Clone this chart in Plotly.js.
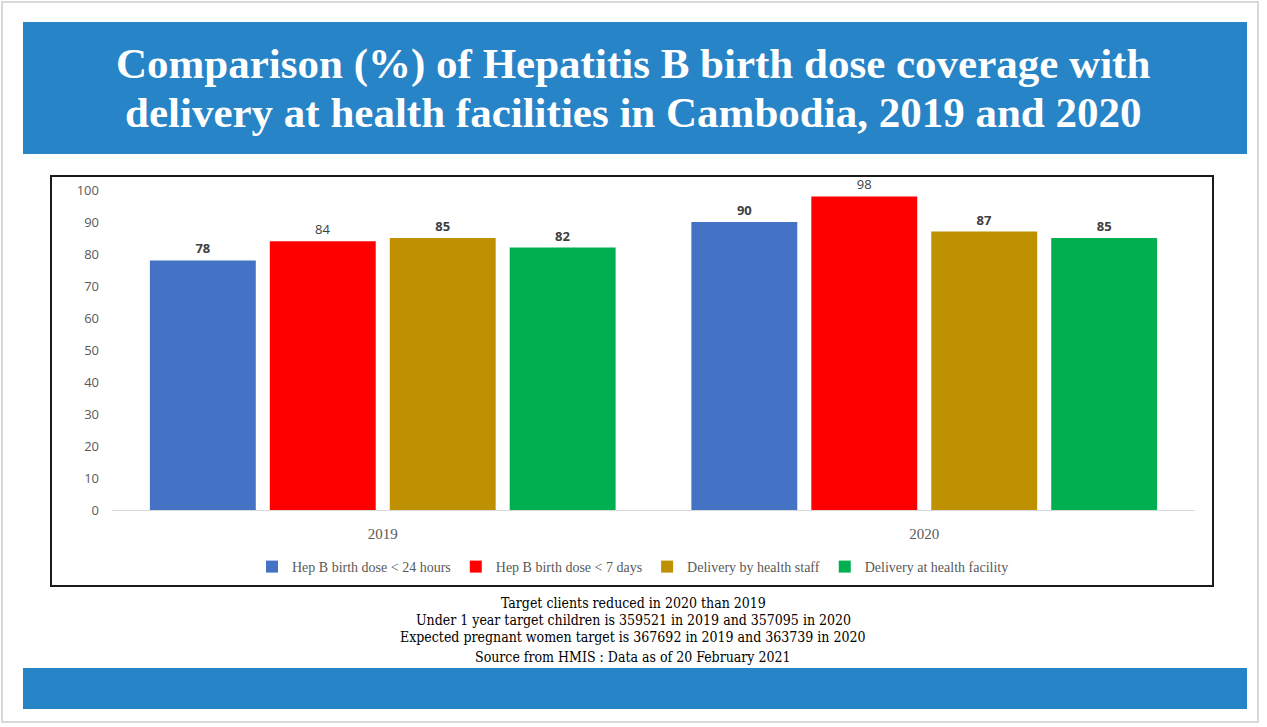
<!DOCTYPE html>
<html><head><meta charset="utf-8">
<script src="https://cdn.plot.ly/plotly-3.0.1.min.js"></script>
<style>html,body{margin:0;padding:0;background:#fff;}#chart{width:1267px;height:727px;}</style>
</head><body><div id="chart"></div>
<script>
const years = ['2019', '2020'];
const seriesNames = ['Hep B birth dose < 24 hours', 'Hep B birth dose < 7 days', 'Delivery by health staff', 'Delivery at health facility'];
const hepB24h = [78, 90];
const hepB7d = [84, 98];
const deliveryStaff = [85, 87];
const deliveryFacility = [82, 85];
const colors = ['#4472C4', '#FF0000', '#BF9000', '#00B050'];
const labelBold = [true, false, true, true];
const footLines = ['Target clients reduced in 2020 than 2019',
  'Under 1 year target children is 359521 in 2019 and 357095 in 2020',
  'Expected pregnant women target is 367692 in 2019 and 363739 in 2020',
  'Source from HMIS : Data as of 20 February 2021'];

const W = 1267, H = 727, L = 112, R = 72, T = 190, B = 217;
const pw = W - L - R, ph = H - T - B;
const px = x => (x - L) / pw;
const py = y => (H - B - y) / ph;

const allVals = [hepB24h, hepB7d, deliveryStaff, deliveryFacility];
const traces = allVals.map((v, i) => ({
  type: 'bar', x: years, y: v, name: seriesNames[i],
  marker: {color: colors[i], line: {width: 0}},
  text: v.map(String), textposition: 'outside', cliponaxis: false,
  texttemplate: labelBold[i] ? '<b>%{text}</b>' : '%{text}',
  textfont: {family: 'Open Sans, sans-serif', size: 13, color: '#404040'},
  hoverinfo: 'none'
}));

const shapes = [
  {type: 'rect', xref: 'paper', yref: 'paper', x0: px(2), x1: px(1258), y0: py(2), y1: py(722), line: {color: '#d9d9d9', width: 2}, fillcolor: 'rgba(0,0,0,0)', layer: 'below'},
  {type: 'rect', xref: 'paper', yref: 'paper', x0: px(23), x1: px(1247), y0: py(22), y1: py(154), line: {width: 0}, fillcolor: '#2784C7', layer: 'below'},
  {type: 'rect', xref: 'paper', yref: 'paper', x0: px(23), x1: px(1247), y0: py(668), y1: py(709), line: {width: 0}, fillcolor: '#2784C7', layer: 'below'},
  {type: 'rect', xref: 'paper', yref: 'paper', x0: px(51), x1: px(1213), y0: py(176), y1: py(586), line: {color: '#1a1a1a', width: 2}, fillcolor: 'rgba(0,0,0,0)', layer: 'below'}
];

const annotations = [
  {xref: 'paper', yref: 'paper', x: px(633), y: py(64), text: '<b>Comparison (%) of Hepatitis B birth dose coverage with</b>', showarrow: false, xanchor: 'center', yanchor: 'middle', font: {family: 'Liberation Serif, serif', size: 43, color: '#ffffff'}},
  {xref: 'paper', yref: 'paper', x: px(633), y: py(112), text: '<b>delivery at health facilities in Cambodia, 2019 and 2020</b>', showarrow: false, xanchor: 'center', yanchor: 'middle', font: {family: 'Liberation Serif, serif', size: 43, color: '#ffffff'}}
];
const footY = [603, 620, 637, 657];
footLines.forEach((t, i) => annotations.push({xref: 'paper', yref: 'paper', x: px(633), y: py(footY[i]), text: t, showarrow: false, xanchor: 'center', yanchor: 'middle', font: {family: 'DejaVu Serif Condensed, serif', size: 14, color: '#000000'}}));

const layout = {
  width: W, height: H, margin: {l: L, r: R, t: T, b: B},
  paper_bgcolor: '#ffffff', plot_bgcolor: '#ffffff',
  barmode: 'group', bargap: 0.114, bargroupgap: 0.117,
  showlegend: true,
  legend: {orientation: 'h', x: px(633), xanchor: 'center', y: py(567), yanchor: 'middle',
    font: {family: 'Liberation Serif, serif', size: 14, color: '#595959'}, itemwidth: 30, tracegroupgap: 0},
  xaxis: {type: 'category', showline: true, linecolor: '#d9d9d9', linewidth: 1, ticks: '', showgrid: false,
    tickfont: {family: 'Liberation Serif, serif', size: 15, color: '#595959'}, ticklabelstandoff: 10, fixedrange: true},
  yaxis: {range: [0, 100], dtick: 10, showgrid: false, zeroline: false, showline: false, ticks: '',
    tickfont: {family: 'Open Sans, sans-serif', size: 13, color: '#595959'}, ticklabelstandoff: 12, fixedrange: true},
  shapes: shapes, annotations: annotations
};
Plotly.newPlot('chart', traces, layout, {displayModeBar: false, staticPlot: true});
</script></body></html>
